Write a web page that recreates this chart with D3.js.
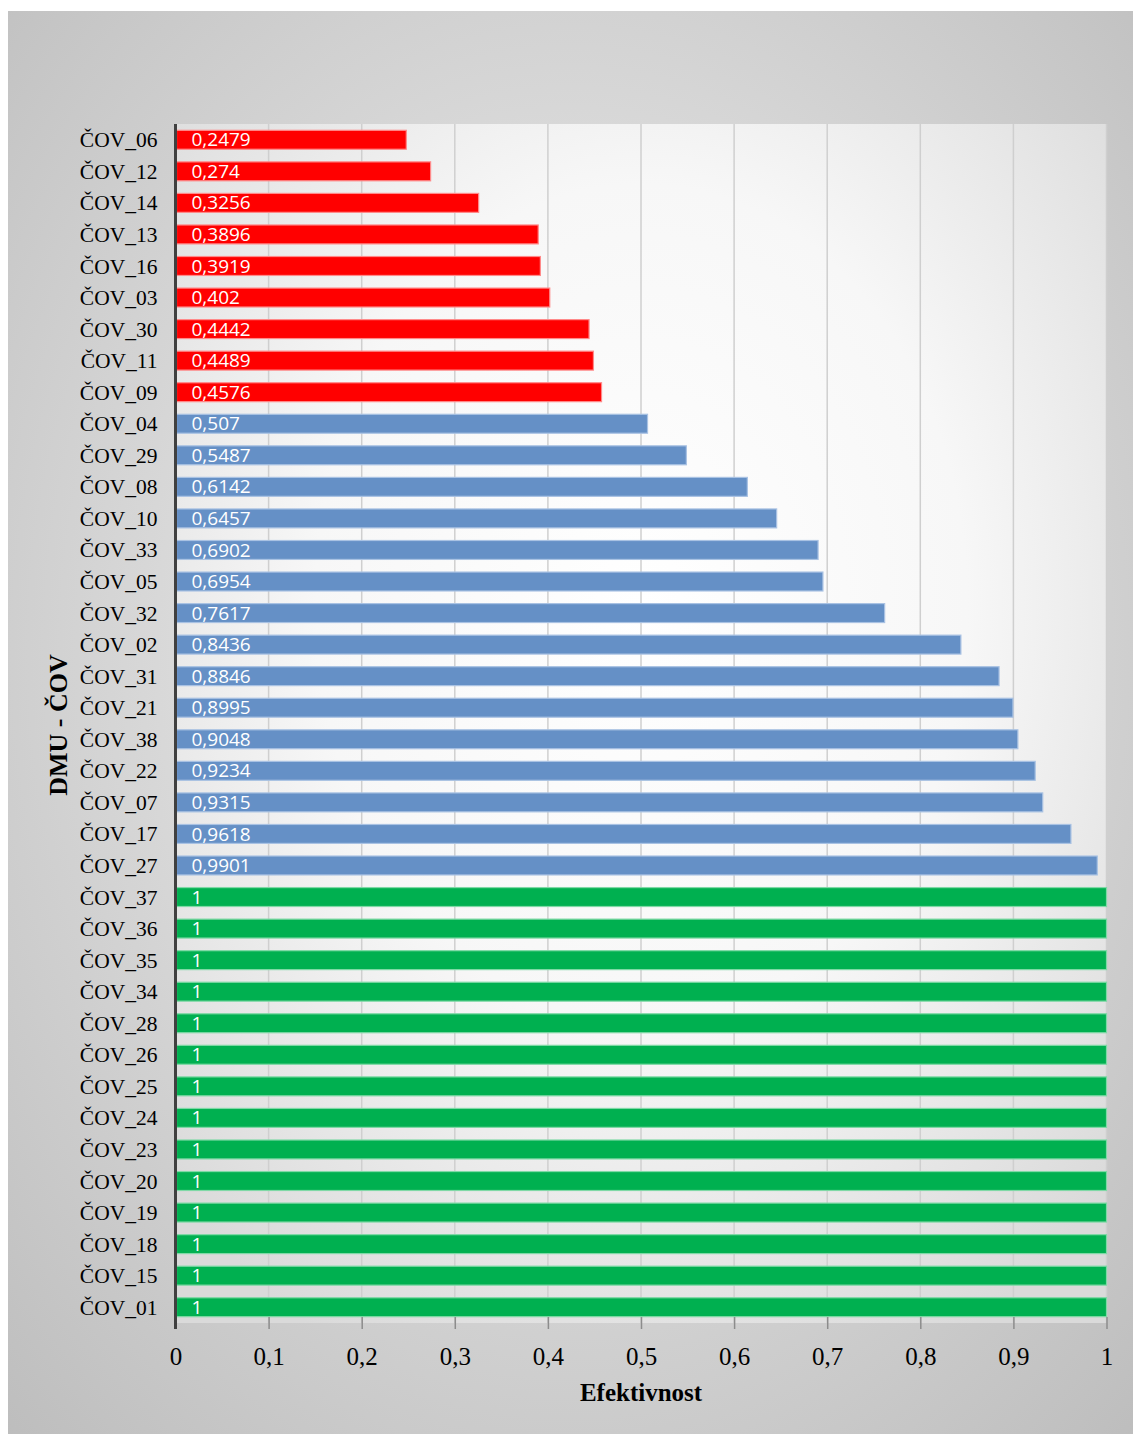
<!DOCTYPE html>
<html><head><meta charset="utf-8">
<script src="https://cdn.jsdelivr.net/npm/d3@7"></script>
<style>body{margin:0;background:#fff}svg{display:block}</style>
</head><body>
<script>
const categories = ["ČOV_06","ČOV_12","ČOV_14","ČOV_13","ČOV_16","ČOV_03","ČOV_30","ČOV_11","ČOV_09","ČOV_04","ČOV_29","ČOV_08","ČOV_10","ČOV_33","ČOV_05","ČOV_32","ČOV_02","ČOV_31","ČOV_21","ČOV_38","ČOV_22","ČOV_07","ČOV_17","ČOV_27","ČOV_37","ČOV_36","ČOV_35","ČOV_34","ČOV_28","ČOV_26","ČOV_25","ČOV_24","ČOV_23","ČOV_20","ČOV_19","ČOV_18","ČOV_15","ČOV_01"];
const values = [0.2479,0.274,0.3256,0.3896,0.3919,0.402,0.4442,0.4489,0.4576,0.507,0.5487,0.6142,0.6457,0.6902,0.6954,0.7617,0.8436,0.8846,0.8995,0.9048,0.9234,0.9315,0.9618,0.9901,1,1,1,1,1,1,1,1,1,1,1,1,1,1];
const tickValues = [0,0.1,0.2,0.3,0.4,0.5,0.6,0.7,0.8,0.9,1];
const groupThresholds = [0.5, 1];
const groupColors = ["#ff0000","#6590c6","#00b050"];
const xTitle = "Efektivnost";
const yTitle = "DMU - ČOV";

const W=1133,H=1434;
const svg=d3.select("body").append("svg").attr("width",W).attr("height",H);
const defs=svg.append("defs");
const g1=defs.append("radialGradient").attr("id","outer").attr("cx","50%").attr("cy","45%").attr("r","75%");
g1.append("stop").attr("offset","0%").attr("stop-color","#f2f2f2");
g1.append("stop").attr("offset","100%").attr("stop-color","#bdbdbd");
const g2=defs.append("radialGradient").attr("id","inner").attr("cx","50%").attr("cy","40%").attr("r","70%");
g2.append("stop").attr("offset","0%").attr("stop-color","#ffffff");
g2.append("stop").attr("offset","50%").attr("stop-color","#f7f7f7");
g2.append("stop").attr("offset","100%").attr("stop-color","#dadada");

svg.append("rect").attr("x",8).attr("y",11).attr("width",W-8).attr("height",H-11).attr("fill","url(#outer)");

const x0=175.5,x1=1106.5,y0=124,y1=1323;
const x=d3.scaleLinear().domain([0,1]).range([x0,x1]);
const y=d3.scaleBand().domain(categories).range([y0,y1]).paddingInner(0.4).paddingOuter(0.2);

svg.append("rect").attr("x",x0).attr("y",y0).attr("width",x1-x0).attr("height",y1-y0).attr("fill","url(#inner)");

// gridlines
svg.append("g").selectAll("line").data(tickValues.slice(1)).join("line")
 .attr("x1",d=>x(d)).attr("x2",d=>x(d)).attr("y1",y0).attr("y2",y1)
 .attr("stroke","#cfcfcf").attr("stroke-width",1.5);

const color=v=>v<groupThresholds[0]?groupColors[0]:(v<groupThresholds[1]?groupColors[1]:groupColors[2]);
const edge=v=>v<groupThresholds[0]?"#ff8a8a":(v<groupThresholds[1]?"#a9c2e3":"#7fd9a6");

svg.append("g").selectAll("rect").data(values).join("rect")
 .attr("x",x(0)+1).attr("y",(d,i)=>y(categories[i]))
 .attr("width",d=>x(d)-x(0)-1).attr("height",y.bandwidth())
 .attr("fill",color).attr("stroke",edge).attr("stroke-width",1.2);

svg.append("g").selectAll("text").data(values).join("text")
 .attr("x",x(0)+16).attr("y",(d,i)=>y(categories[i])+y.bandwidth()/2+1.5)
 .attr("dominant-baseline","middle")
 .attr("font-family","'Open Sans','Liberation Sans',sans-serif").attr("font-size",19)
 .attr("fill","#ffffff").text(d=>String(d).replace(".",","));

// x axis
const xAxis=d3.axisBottom(x).tickValues(tickValues).tickSize(6).tickPadding(18)
 .tickFormat(d=>String(d).replace(".",","));
const ga=svg.append("g").attr("transform",`translate(0,${y1})`).call(xAxis);
ga.select(".domain").remove();
ga.selectAll(".tick line").attr("stroke","#8c8c8c").attr("stroke-width",1.5).attr("y1",-6).attr("y2",6);
ga.selectAll(".tick text").attr("font-family","'Liberation Serif','Times New Roman',serif").attr("font-size",25).attr("fill","#000");

// y axis
const yAxis=d3.axisLeft(y).tickSize(0).tickPadding(18);
const gy=svg.append("g").attr("transform",`translate(${x0},0)`).call(yAxis);
gy.select(".domain").remove();
gy.selectAll(".tick text").attr("font-family","'Liberation Serif','Times New Roman',serif").attr("font-size",21.5).attr("fill","#000").attr("dy","0.35em");
svg.append("line").attr("x1",x0).attr("x2",x0).attr("y1",y0).attr("y2",y1+6).attr("stroke","#404040").attr("stroke-width",3);

svg.append("text").attr("x",(x0+x1)/2).attr("y",1401).attr("text-anchor","middle")
 .attr("font-family","'Liberation Serif','Times New Roman',serif").attr("font-size",25).attr("font-weight","bold").text(xTitle);
svg.append("text").attr("transform","translate(67,725) rotate(-90)").attr("text-anchor","middle")
 .attr("font-family","'Liberation Serif','Times New Roman',serif").attr("font-size",26).attr("font-weight","bold").text(yTitle);
</script>
</body></html>
